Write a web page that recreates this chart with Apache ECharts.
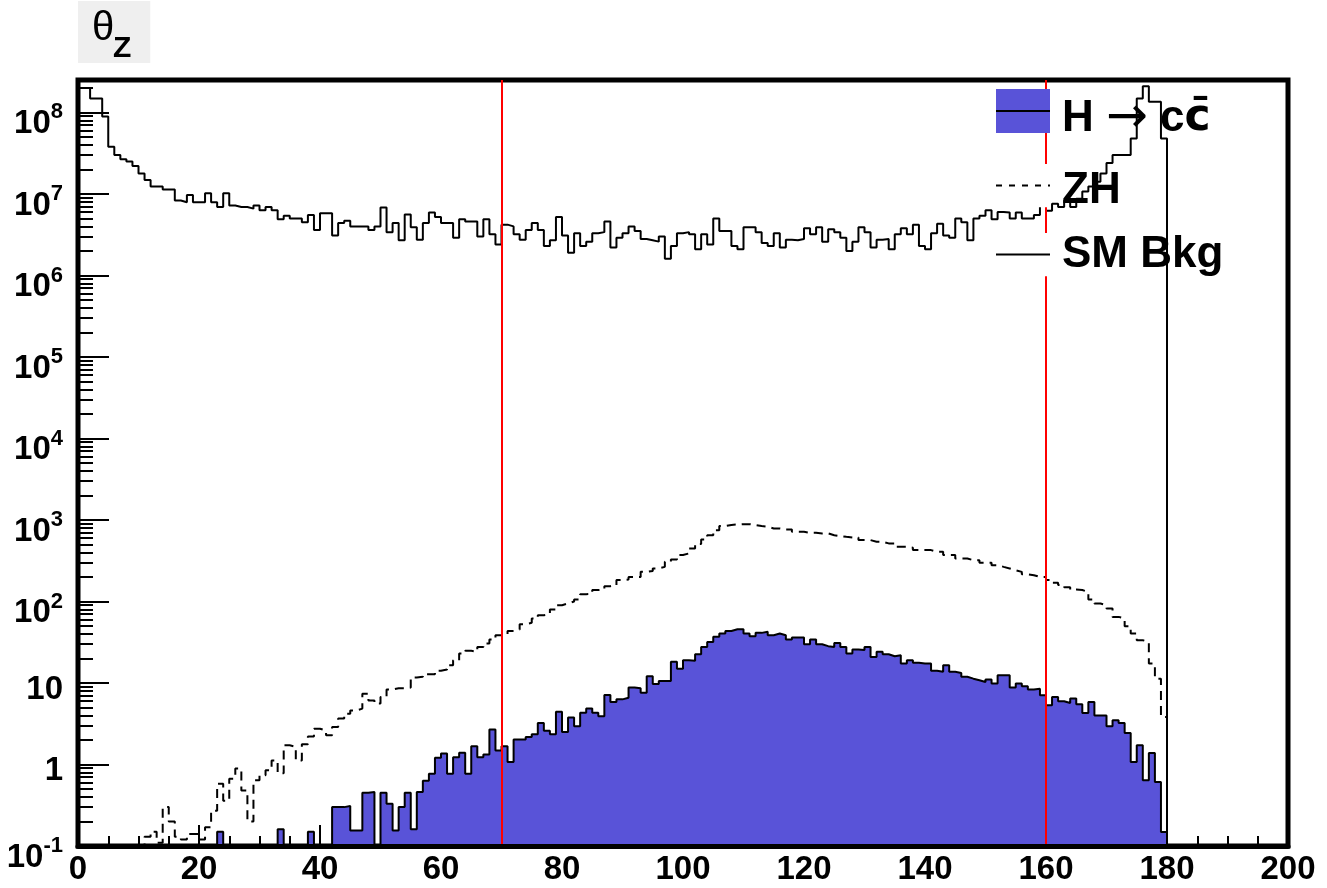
<!DOCTYPE html>
<html>
<head>
<meta charset="utf-8">
<script src="https://cdn.jsdelivr.net/npm/echarts@6/dist/echarts.min.js"></script>
<style>
  html, body { margin: 0; padding: 0; background: #fff; }
  #chart { width: 1327px; height: 888px; }
</style>
</head>
<body>
<div id="chart"></div>
<script>
// theta_Z histograms, 1 degree bins from 0 to 180
const binStart = 0
const binWidth = 1

const smBkg = [
  2.0e8, 2.0e8, 1.48e8, 1.48e8, 8.9e7, 3.8e7, 3.0e7, 2.66e7, 2.5e7, 2.2e7,
  1.78e7, 1.48e7, 1.23e7, 1.23e7, 1.13e7, 1.13e7, 8.3e6, 7.9e6, 9.7e6, 7.9e6,
  7.9e6, 1.02e7, 7.9e6, 6.9e6, 1.02e7, 7.2e6, 6.9e6, 6.9e6, 6.6e6, 7.2e6,
  6.3e6, 6.9e6, 6.3e6, 4.9e6, 5.4e6, 5.0e6, 5.0e6, 4.5e6, 5.5e6, 3.6e6,
  5.8e6, 5.8e6, 3.1e6, 4.4e6, 4.7e6, 4.0e6, 4.0e6, 4.0e6, 3.6e6, 4.0e6,
  6.8e6, 3.4e6, 4.4e6, 2.7e6, 5.6e6, 3.9e6, 2.75e6, 4.4e6, 5.9e6, 5.2e6,
  4.4e6, 4.4e6, 2.9e6, 4.9e6, 4.6e6, 4.6e6, 3.0e6, 4.9e6, 3.2e6, 2.4e6,
  4.2e6, 4.0e6, 3.2e6, 2.75e6, 3.6e6, 4.4e6, 3.6e6, 2.3e6, 2.7e6, 5.2e6,
  3.1e6, 1.9e6, 3.3e6, 2.3e6, 2.6e6, 3.3e6, 3.4e6, 4.6e6, 2.2e6, 2.9e6,
  3.3e6, 4.0e6, 3.5e6, 2.8e6, 2.7e6, 2.6e6, 3.0e6, 1.6e6, 2.3e6, 3.3e6,
  3.4e6, 3.2e6, 2.1e6, 3.2e6, 2.4e6, 5.0e6, 3.5e6, 3.5e6, 2.3e6, 2.1e6,
  3.9e6, 3.9e6, 3.4e6, 2.5e6, 2.3e6, 3.3e6, 2.2e6, 2.75e6, 2.7e6, 2.8e6,
  3.8e6, 3.2e6, 3.9e6, 2.6e6, 3.7e6, 3.4e6, 2.9e6, 2.0e6, 2.6e6, 3.9e6,
  3.4e6, 2.2e6, 2.75e6, 2.8e6, 2.1e6, 3.2e6, 3.8e6, 3.2e6, 4.2e6, 2.3e6,
  2.1e6, 3.3e6, 4.3e6, 3.1e6, 2.9e6, 5.0e6, 4.5e6, 2.7e6, 5.0e6, 5.4e6,
  6.3e6, 4.9e6, 6.0e6, 5.9e6, 5.0e6, 5.9e6, 5.0e6, 5.0e6, 5.5e6, 7.2e6,
  6.2e6, 7.6e6, 6.9e6, 8.3e6, 6.9e6, 8.7e6, 1.07e7, 1.23e7, 1.41e7, 1.78e7,
  2.4e7, 3.0e7, 3.0e7, 3.0e7, 4.8e7, 1.48e8, 2.1e8, 1.35e8, 1.35e8, 4.8e7
]

const zh = [
  0, 0, 0, 0, 0, 0, 0, 0, 0, 0,
  0, 0.13, 0.15, 0.11, 0.30, 0.2, 0.13, 0.12, 0.14, 0.14,
  0.12, 0.17, 0.27, 0.58, 0.36, 0.67, 0.89, 0.48, 0.2, 0.64,
  0.74, 0.85, 1.12, 0.78, 1.72, 1.65, 1.12, 1.77, 2.2, 2.75,
  2.6, 2.28, 2.88, 3.66, 4.2, 4.6, 4.85, 7.4, 6.1, 5.6,
  6.74, 8.3, 8.6, 8.6, 8.8, 11.7, 11.9, 12.8, 12.8, 14.1,
  14.6, 16.5, 19.0, 23.0, 24.8, 24.2, 27.7, 30.5, 34.1, 38.6,
  39.3, 43.5, 45.3, 52.7, 54.7, 61.9, 67.9, 69.8, 80, 90,
  94.6, 100, 106, 123, 124, 138, 140, 154, 157, 183,
  186, 200, 200, 231, 237, 254, 266, 307, 328, 371,
  389, 448, 506, 578, 650, 750, 842, 870, 880, 889,
  889, 865, 842, 826, 787, 787, 766, 766, 716, 716,
  697, 697, 684, 684, 650, 634, 622, 611, 611, 566,
  566, 540, 540, 516, 516, 469, 469, 456, 427, 427,
  427, 407, 407, 371, 371, 337, 337, 321, 321, 298,
  298, 279, 266, 254, 242, 231, 216, 210, 200, 200,
  183, 170, 159, 149, 140, 138, 131, 106, 94.6, 90,
  82, 64.7, 61.8, 49.8, 40.5, 33.5, 31.9, 17.3, 11.3, 3.83
]

const hcc = [
  0, 0, 0, 0, 0, 0, 0, 0, 0, 0,
  0, 0, 0, 0, 0, 0, 0, 0, 0, 0,
  0, 0, 0, 0.15, 0, 0, 0, 0, 0, 0,
  0, 0, 0, 0.16, 0, 0, 0, 0, 0.15, 0,
  0, 0, 0.30, 0.30, 0.31, 0.155, 0.155, 0.45, 0.46, 0,
  0.45, 0.33, 0.155, 0.30, 0.45, 0.16, 0.46, 0.63, 0.77, 1.21,
  1.36, 0.77, 1.23, 1.39, 0.77, 1.67, 1.23, 1.33, 2.68, 1.49,
  1.67, 1.07, 2.02, 2.02, 2.18, 2.35, 3.24, 2.6, 2.35, 4.43,
  2.51, 3.77, 2.94, 4.3, 4.85, 4.3, 3.9, 7.1, 5.85, 6.3,
  6.6, 8.8, 8.6, 7.6, 12.1, 9.7, 10.6, 10.6, 18.2, 15.0,
  19.0, 18.8, 22.5, 27.7, 31.9, 36.8, 40.5, 43.5, 45.7, 45.7,
  40.5, 37.5, 41.2, 42.4, 38.6, 40.5, 38.6, 34.1, 36.1, 36.1,
  29.9, 34.1, 29.9, 28.3, 27.7, 31.0, 27.7, 23.0, 25.8, 25.4,
  27.7, 20.9, 24.1, 22.5, 21.3, 21.9, 17.3, 19.0, 17.7, 17.3,
  17.3, 14.1, 13.7, 16.5, 13.7, 13.3, 11.9, 11.3, 10.8, 10.3,
  11.0, 9.85, 12.4, 12.4, 8.8, 9.85, 9.1, 8.3, 8.5, 7.07,
  5.33, 6.74, 5.97, 5.69, 6.44, 5.48, 4.29, 5.85, 4.0, 4.0,
  2.94, 3.49, 3.24, 2.44, 1.07, 1.72, 0.64, 1.38, 0.61, 0.148
]

const cutLines = [70, 160]

const xTicks = [0, 20, 40, 60, 80, 100, 120, 140, 160, 180, 200]
const yDecades = [0.1, 1, 10, 1e2, 1e3, 1e4, 1e5, 1e6, 1e7, 1e8]

const Y_MIN = 0.1
const Y_MAX = 2.5e8
const FONT = 'Liberation Sans, Arial, Helvetica, sans-serif'
const H_BLUE = '#5953d8'

// log minor ticks 2..9 inside each decade
const yMinor = []
yDecades.forEach((d) => {
  for (let m = 2; m <= 9; m++) {
    if (m * d <= Y_MAX) yMinor.push(m * d)
  }
})

// histogram -> step points at bin lower edges, empty bins sit on the axis floor
function stepPoints(values) {
  const pts = values.map((v, i) => [binStart + i * binWidth, Math.max(v, Y_MIN)])
  pts.push([binStart + values.length * binWidth, Y_MIN])
  return pts
}

function svgIcon(body) {
  const svg = '<svg xmlns="http://www.w3.org/2000/svg" width="54" height="44">' + body + '</svg>'
  return 'image://data:image/svg+xml;charset=utf-8,' + encodeURIComponent(svg)
}

const iconH = svgIcon('<rect width="54" height="44" fill="' + H_BLUE + '"/><line x1="0" y1="22" x2="54" y2="22" stroke="#000" stroke-width="2"/>')
const iconZH = svgIcon('<rect width="54" height="44" fill="#fff"/><line x1="0" y1="22" x2="54" y2="22" stroke="#000" stroke-width="2" stroke-dasharray="6,7"/>')
const iconSM = svgIcon('<rect width="54" height="44" fill="#fff"/><line x1="0" y1="22" x2="54" y2="22" stroke="#000" stroke-width="2"/>')

function powerLabel(v) {
  const e = Math.round(Math.log10(v))
  if (e === 0) return '{sq| }{p|1}'
  if (e === 1) return '{sq| }{p|10}'
  return '{sp| }{b|10}{s|' + e + '}'
}

const labelRich = {
  p: { fontFamily: FONT, fontSize: 33, fontWeight: 'bold', color: '#000', lineHeight: 40, verticalAlign: 'bottom' },
  b: { fontFamily: FONT, fontSize: 33, fontWeight: 'bold', color: '#000', lineHeight: 40, verticalAlign: 'bottom' },
  s: { fontFamily: FONT, fontSize: 22, fontWeight: 'bold', color: '#000', verticalAlign: 'middle' },
  sp: { fontSize: 1, lineHeight: 56 },
  sq: { fontSize: 1, lineHeight: 46 },
}

const tickStyle = { color: '#000', width: 2 }

const chart = echarts.init(document.getElementById('chart'))

chart.setOption({
  animation: false,
  backgroundColor: '#fff',
  textStyle: { fontFamily: FONT },
  title: [
    {
      text: 'θ',
      left: 78,
      top: 4,
      padding: [8, 36, 14, 14],
      backgroundColor: '#efefef',
      textStyle: { fontFamily: FONT, fontSize: 40, fontWeight: 'normal', color: '#000', lineHeight: 34 },
    },
    {
      text: 'Z',
      left: 113,
      top: 35,
      padding: 0,
      z: 7,
      textStyle: { fontFamily: FONT, fontSize: 30, fontWeight: 'bold', color: '#000', lineHeight: 28 },
    },
  ],
  grid: {
    left: 78,
    right: 39,
    top: 80,
    bottom: 42,
    show: true,
    borderColor: '#000',
    borderWidth: 5,
    backgroundColor: 'transparent',
    containLabel: false,
    outerBoundsMode: 'none',
  },
  legend: {
    orient: 'vertical',
    left: 996,
    top: 89,
    itemWidth: 54,
    itemHeight: 44,
    itemGap: 19.5,
    padding: 0,
    selectedMode: false,
    z: 20,
    textStyle: {
      color: '#000',
      fontFamily: FONT,
      fontSize: 44,
      fontWeight: 'bold',
      lineHeight: 44,
      padding: [0, 0, 0, 7],
      rich: {
        hb: { fontFamily: FONT, fontSize: 44, fontWeight: 'bold', color: '#000', lineHeight: 28 },
        ha: { fontFamily: 'DejaVu Sans', fontSize: 50, fontWeight: 'normal', color: '#000', lineHeight: 28 },
        hc: { fontFamily: 'DejaVu Sans', fontSize: 44, fontWeight: 'bold', color: '#000', lineHeight: 28 },
      },
    },
    formatter(name) {
      if (name === 'H') return '{hb|H }{ha|\u2192}{hb| c}{hc|c\u0304}'
      return name
    },
    data: [
      { name: 'H', icon: iconH, textStyle: { lineHeight: 28, padding: [16, 0, 0, 7] } },
      { name: 'ZH', icon: iconZH, textStyle: { lineHeight: 33, padding: [11, 0, 0, 7] } },
      { name: 'SM Bkg', icon: iconSM },
    ],
  },
  xAxis: [
    {
      type: 'value',
      min: xTicks[0],
      max: xTicks[xTicks.length - 1],
      interval: 20,
      position: 'bottom',
      axisLine: { show: false, onZero: false },
      axisTick: { inside: true, length: 21, lineStyle: tickStyle },
      minorTick: { show: true, splitNumber: 4, length: 10, lineStyle: tickStyle },
      axisLabel: { color: '#000', fontFamily: FONT, fontSize: 33, fontWeight: 'bold', margin: 7 },
      splitLine: { show: false },
      minorSplitLine: { show: false },
    },
    {
      // bottom frame edge drawn above the filled histogram
      type: 'value',
      min: xTicks[0],
      max: xTicks[xTicks.length - 1],
      position: 'bottom',
      z: 10,
      axisLine: { show: true, onZero: false, lineStyle: { color: '#000', width: 5 } },
      axisTick: { show: false },
      axisLabel: { show: false },
      splitLine: { show: false },
    },
  ],
  yAxis: [
    {
      type: 'log',
      logBase: 10,
      min: Y_MIN,
      max: Y_MAX,
      position: 'left',
      axisLine: { show: false, onZero: false },
      axisTick: { inside: true, length: 31, customValues: yDecades, lineStyle: tickStyle },
      axisLabel: {
        customValues: yDecades,
        formatter: powerLabel,
        margin: 15,
        color: '#000',
        rich: labelRich,
      },
      splitLine: { show: false },
    },
    {
      type: 'log',
      logBase: 10,
      min: Y_MIN,
      max: Y_MAX,
      position: 'left',
      axisLine: { show: false, onZero: false },
      axisTick: { inside: true, length: 15, customValues: yMinor, lineStyle: tickStyle },
      axisLabel: { show: false },
      splitLine: { show: false },
    },
  ],
  series: [
    {
      name: 'H',
      type: 'line',
      step: 'end',
      symbol: 'none',
      z: 2,
      data: stepPoints(hcc),
      color: H_BLUE,
      lineStyle: { color: '#000', width: 2 },
      areaStyle: { color: H_BLUE, opacity: 1, origin: 'start' },
    },
    {
      name: 'ZH',
      type: 'line',
      step: 'end',
      symbol: 'none',
      z: 3,
      data: stepPoints(zh),
      color: '#000',
      lineStyle: { color: '#000', width: 2, type: [9, 6] },
    },
    {
      name: 'SM Bkg',
      type: 'line',
      step: 'end',
      symbol: 'none',
      z: 3,
      data: stepPoints(smBkg),
      color: '#000',
      lineStyle: { color: '#000', width: 2 },
      markLine: {
        silent: true,
        symbol: 'none',
        label: { show: false },
        lineStyle: { color: '#ff0000', width: 2, type: 'solid' },
        data: cutLines.map((x) => ({ xAxis: x })),
      },
    },
  ],
})
</script>
</body>
</html>
